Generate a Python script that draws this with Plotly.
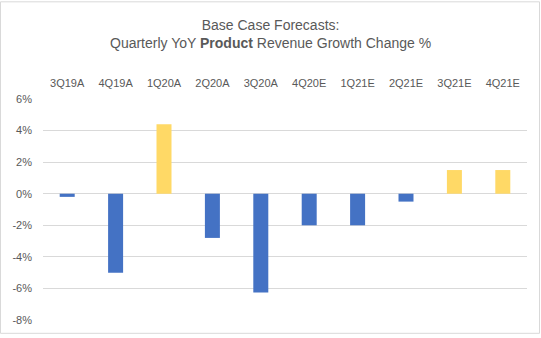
import plotly.graph_objects as go

categories = ["3Q19A", "4Q19A", "1Q20A", "2Q20A", "3Q20A", "4Q20E", "1Q21E", "2Q21E", "3Q21E", "4Q21E"]
values = [-0.2, -5.0, 4.4, -2.8, -6.25, -2.0, -2.0, -0.5, 1.5, 1.5]
pos_color = "#FFD966"
neg_color = "#4472C4"
colors = [pos_color if v > 0 else neg_color for v in values]
y_ticks = [6, 4, 2, 0, -2, -4, -6, -8]
y_tick_text = [f"{t}%" for t in y_ticks]

W, H = 541, 338
ml, mr, mt, mb = 43, 14, 99, 15
pw = W - ml - mr
ph = H - mt - mb

fig = go.Figure(go.Bar(
    x=categories, y=values, marker=dict(color=colors, line=dict(width=0)),
    width=0.31,
))

font_family = "Liberation Sans, Arial, sans-serif"
fig.update_layout(
    width=W, height=H,
    margin=dict(l=ml, r=mr, t=mt, b=mb),
    paper_bgcolor="white", plot_bgcolor="white",
    showlegend=False,
    font=dict(family=font_family, color="#595959", size=11),
    xaxis=dict(side="top", showline=False, showgrid=False, zeroline=False,
               ticks="", tickfont=dict(size=11, color="#595959"), ticklabelstandoff=9),
    yaxis=dict(range=[-8, 6], tickvals=y_ticks, ticktext=y_tick_text,
               showgrid=True, gridcolor="#D9D9D9", gridwidth=1,
               zeroline=True, zerolinecolor="#D9D9D9", zerolinewidth=1,
               showline=False, ticks="", ticklabelstandoff=10,
               tickfont=dict(size=11, color="#595959")),
    annotations=[dict(
        text="Base Case Forecasts:<br>Quarterly YoY <b>Product</b> Revenue Growth Change %",
        xref="paper", yref="paper",
        x=(W / 2 - ml) / pw, y=1 + (mt - 14) / ph,
        xanchor="center", yanchor="top", showarrow=False,
        font=dict(size=14, color="#595959", family=font_family),
        align="center",
    )],
    shapes=[dict(type="rect", xref="paper", yref="paper",
                 x0=-(ml - 0.5) / pw, x1=1 + (mr - 1.5) / pw,
                 y0=-(mb - 1.5) / ph, y1=1 + (mt - 0.5) / ph,
                 line=dict(color="#D9D9D9", width=1), layer="below")],
)

fig.write_html("out.html")
